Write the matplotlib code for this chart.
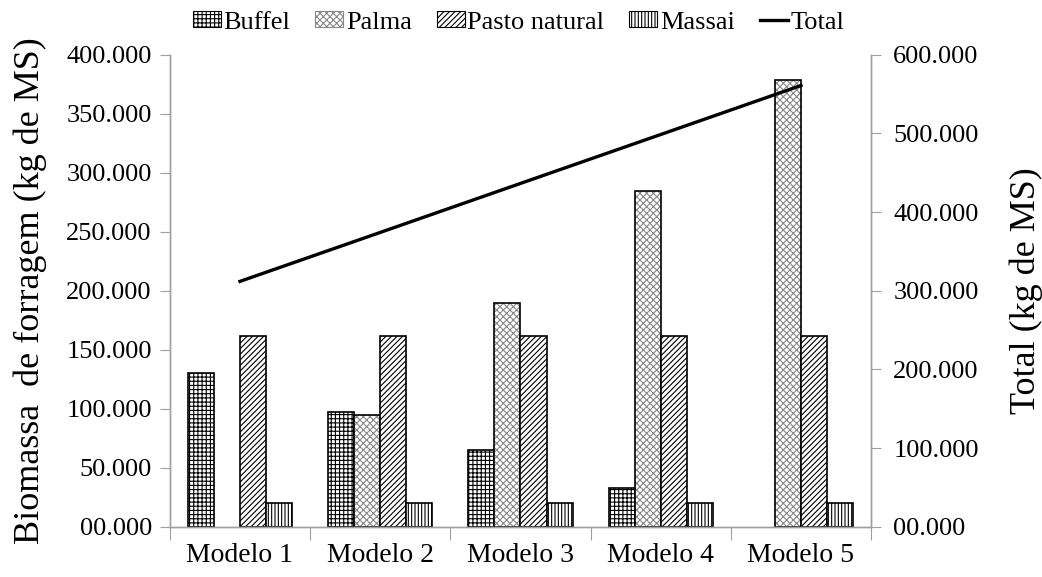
import matplotlib.pyplot as plt
import numpy as np
from matplotlib.ticker import FuncFormatter, FixedLocator

plt.rcParams['font.family'] = ['Liberation Serif', 'DejaVu Serif']
plt.rcParams['hatch.linewidth'] = 0.8

# Forage biomass per model (kg of dry matter)
modelos = ['Modelo 1', 'Modelo 2', 'Modelo 3', 'Modelo 4', 'Modelo 5']
buffel = [130000, 97500, 65000, 32500, 0]
palma = [0, 94700, 189500, 284200, 379000]
pasto_natural = [162000, 162000, 162000, 162000, 162000]
massai = [20000, 20000, 20000, 20000, 20000]
total = [b + p + n + m for b, p, n, m in zip(buffel, palma, pasto_natural, massai)]

series = [
    ('Buffel', buffel, '++++', 'black'),
    ('Palma', palma, 'xxxxx', '#888888'),
    ('Pasto natural', pasto_natural, '//////', 'black'),
    ('Massai', massai, '|||||', 'black'),
]

axis_gray = '#a0a0a0'
fmt = FuncFormatter(lambda v, pos: f'{v / 1000:06.3f}')

fig = plt.figure(figsize=(10.42, 5.77), dpi=100)
ax = fig.add_axes([0.163, 0.087, 0.673, 0.818])
ax2 = ax.twinx()

x = np.arange(len(modelos))
w = 0.186
handles = []
for i, (name, vals, hatch, hcolor) in enumerate(series):
    pos = x + (i - 1.5) * w
    lw = [1.2 if v > 0 else 0 for v in vals]
    # hatch layer first, then a black outline on top
    ax.bar(pos, vals, width=w, color='white', edgecolor=hcolor, hatch=hatch, linewidth=0)
    ax.bar(pos, vals, width=w, color='none', edgecolor='black', linewidth=lw)
    h = plt.Rectangle((0, 0), 1, 1, facecolor='white', edgecolor=hcolor, hatch=hatch, linewidth=0.8)
    handles.append((h, name))

line, = ax2.plot(x, total, color='black', linewidth=2.4)

ax.set_xlim(-0.5, len(modelos) - 0.5)
ax.set_ylim(0, 400000)
ax2.set_ylim(0, 600000)
ax.set_yticks(np.arange(0, 400001, 50000))
ax2.set_yticks(np.arange(0, 600001, 100000))
ax.yaxis.set_major_formatter(fmt)
ax2.yaxis.set_major_formatter(fmt)

# category separators as major ticks, names on minor ticks
ax.xaxis.set_major_locator(FixedLocator(np.arange(-0.5, len(modelos), 1.0)))
ax.xaxis.set_minor_locator(FixedLocator(x))
ax.set_xticklabels([], minor=False)
ax.set_xticklabels(modelos, minor=True)
ax.tick_params(axis='x', which='major', length=9, color=axis_gray)
ax.tick_params(axis='x', which='minor', length=0, labelsize=20, pad=12)
ax.tick_params(axis='y', length=7, color=axis_gray, labelsize=19, pad=6)
ax2.tick_params(axis='y', length=7, color=axis_gray, labelsize=19, pad=9)

for a in (ax, ax2):
    a.spines['top'].set_visible(False)
    for s in ('left', 'right', 'bottom'):
        a.spines[s].set_color(axis_gray)
        a.spines[s].set_linewidth(1.0)

ax.set_ylabel('Biomassa  de forragem (kg de MS)', fontsize=26)
ax2.set_ylabel('Total (kg de MS)', fontsize=26)
ax.yaxis.set_label_coords(-0.175, 0.5)
ax2.yaxis.set_label_coords(1.197, 0.5)

leg_handles = [h for h, _ in handles] + [line]
leg_labels = [n for _, n in handles] + ['Total']
fig.legend(leg_handles, leg_labels, loc='upper center', bbox_to_anchor=(0.4976, 1.017),
           ncol=5, frameon=False, fontsize=19, handlelength=1.06, handleheight=0.55,
           handletextpad=0.1, columnspacing=0.95, borderpad=0.3)

fig.savefig('out.png', dpi=100)
